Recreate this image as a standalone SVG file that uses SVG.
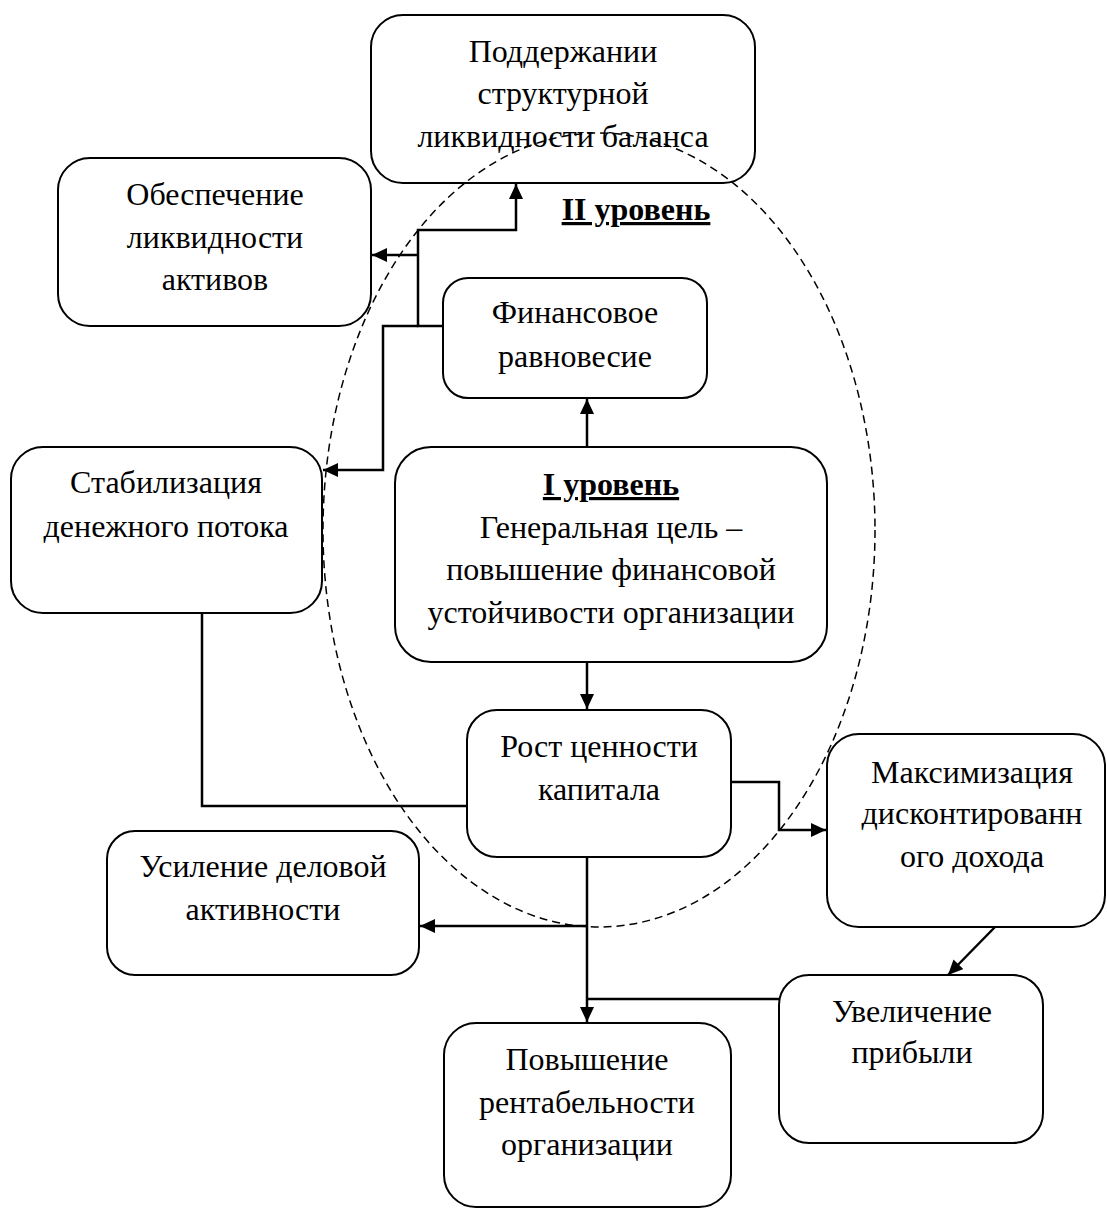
<svg xmlns="http://www.w3.org/2000/svg" width="1107" height="1209" viewBox="0 0 1107 1209">
<style>
.box{fill:#fff;stroke:#000;stroke-width:2}
.t{font-family:"Liberation Serif","Times New Roman",serif;font-size:32px;fill:#000;text-anchor:middle}
.b{font-weight:bold;text-decoration:underline}
.c{fill:none;stroke:#000;stroke-width:2.5}
.ell{fill:none;stroke:#000;stroke-width:1.5;stroke-dasharray:8 5}
</style>
<defs>
<marker id="arr" markerUnits="userSpaceOnUse" markerWidth="16" markerHeight="14" refX="15" refY="7" orient="auto">
<path d="M0,0 L15,7 L0,14 Z" fill="#000"/>
</marker>
</defs>
<rect width="1107" height="1209" fill="#fff"/>

<g id="n-podderzhanie">
<rect class="box" x="371" y="15" width="384" height="168" rx="32"/>
<text class="t" x="563" y="62">Поддержании</text>
<text class="t" x="563" y="104">структурной</text>
<text class="t" x="563" y="147">ликвидности баланса</text>
</g>
<g id="n-obespechenie">
<rect class="box" x="58" y="158" width="313" height="168" rx="32"/>
<text class="t" x="215" y="205">Обеспечение</text>
<text class="t" x="215" y="248">ликвидности</text>
<text class="t" x="215" y="290">активов</text>
</g>
<g id="n-finravnovesie">
<rect class="box" x="443" y="278" width="264" height="120" rx="25"/>
<text class="t" x="575" y="323">Финансовое</text>
<text class="t" x="575" y="367">равновесие</text>
</g>
<g id="n-stabilizaciya">
<rect class="box" x="11" y="447" width="311" height="166" rx="32"/>
<text class="t" x="166" y="493">Стабилизация</text>
<text class="t" x="166" y="537">денежного потока</text>
</g>
<g id="n-level1">
<rect class="box" x="395" y="447" width="432" height="215" rx="36"/>
<text class="t b" x="611" y="495">I уровень</text>
<text class="t" x="611" y="538">Генеральная цель –</text>
<text class="t" x="611" y="580">повышение финансовой</text>
<text class="t" x="611" y="623">устойчивости организации</text>
</g>
<g id="n-rost">
<rect class="box" x="467" y="710" width="264" height="147" rx="30"/>
<text class="t" x="599" y="757">Рост ценности</text>
<text class="t" x="599" y="800">капитала</text>
</g>
<g id="n-maksimizaciya">
<rect class="box" x="827" y="734" width="278" height="193" rx="32"/>
<text class="t" x="972" y="783">Максимизация</text>
<text class="t" x="972" y="824">дисконтированн</text>
<text class="t" x="972" y="867">ого дохода</text>
</g>
<g id="n-usilenie">
<rect class="box" x="107" y="831" width="312" height="144" rx="28"/>
<text class="t" x="263" y="877">Усиление деловой</text>
<text class="t" x="263" y="920">активности</text>
</g>
<g id="n-uvelichenie">
<rect class="box" x="779" y="975" width="264" height="168" rx="30"/>
<text class="t" x="912" y="1022">Увеличение</text>
<text class="t" x="912" y="1063">прибыли</text>
</g>
<g id="n-povyshenie">
<rect class="box" x="444" y="1023" width="287" height="184" rx="32"/>
<text class="t" x="587" y="1070">Повышение</text>
<text class="t" x="587" y="1113">рентабельности</text>
<text class="t" x="587" y="1155">организации</text>
</g>

<g id="level2-area">
<ellipse class="ell" cx="599" cy="530" rx="276" ry="397"/>
<text class="t b" x="636" y="220">II уровень</text>
</g>

<g id="connectors">
<path class="c" d="M443,326 H418 V230 H516 V184" marker-end="url(#arr)"/>
<path class="c" d="M418,255 H372" marker-end="url(#arr)"/>
<path class="c" d="M418,326 H383 V470 H323" marker-end="url(#arr)"/>
<path class="c" d="M587,447 V399" marker-end="url(#arr)"/>
<path class="c" d="M587,662 V709" marker-end="url(#arr)"/>
<path class="c" d="M202,613 V806 H467"/>
<path class="c" d="M731,782 H779 V830 H826" marker-end="url(#arr)"/>
<path class="c" d="M587,857 V1022" marker-end="url(#arr)"/>
<path class="c" d="M587,926 H420" marker-end="url(#arr)"/>
<path class="c" d="M779,999 H587"/>
<path class="c" d="M995,927 L948,975" marker-end="url(#arr)"/>
</g>
</svg>
